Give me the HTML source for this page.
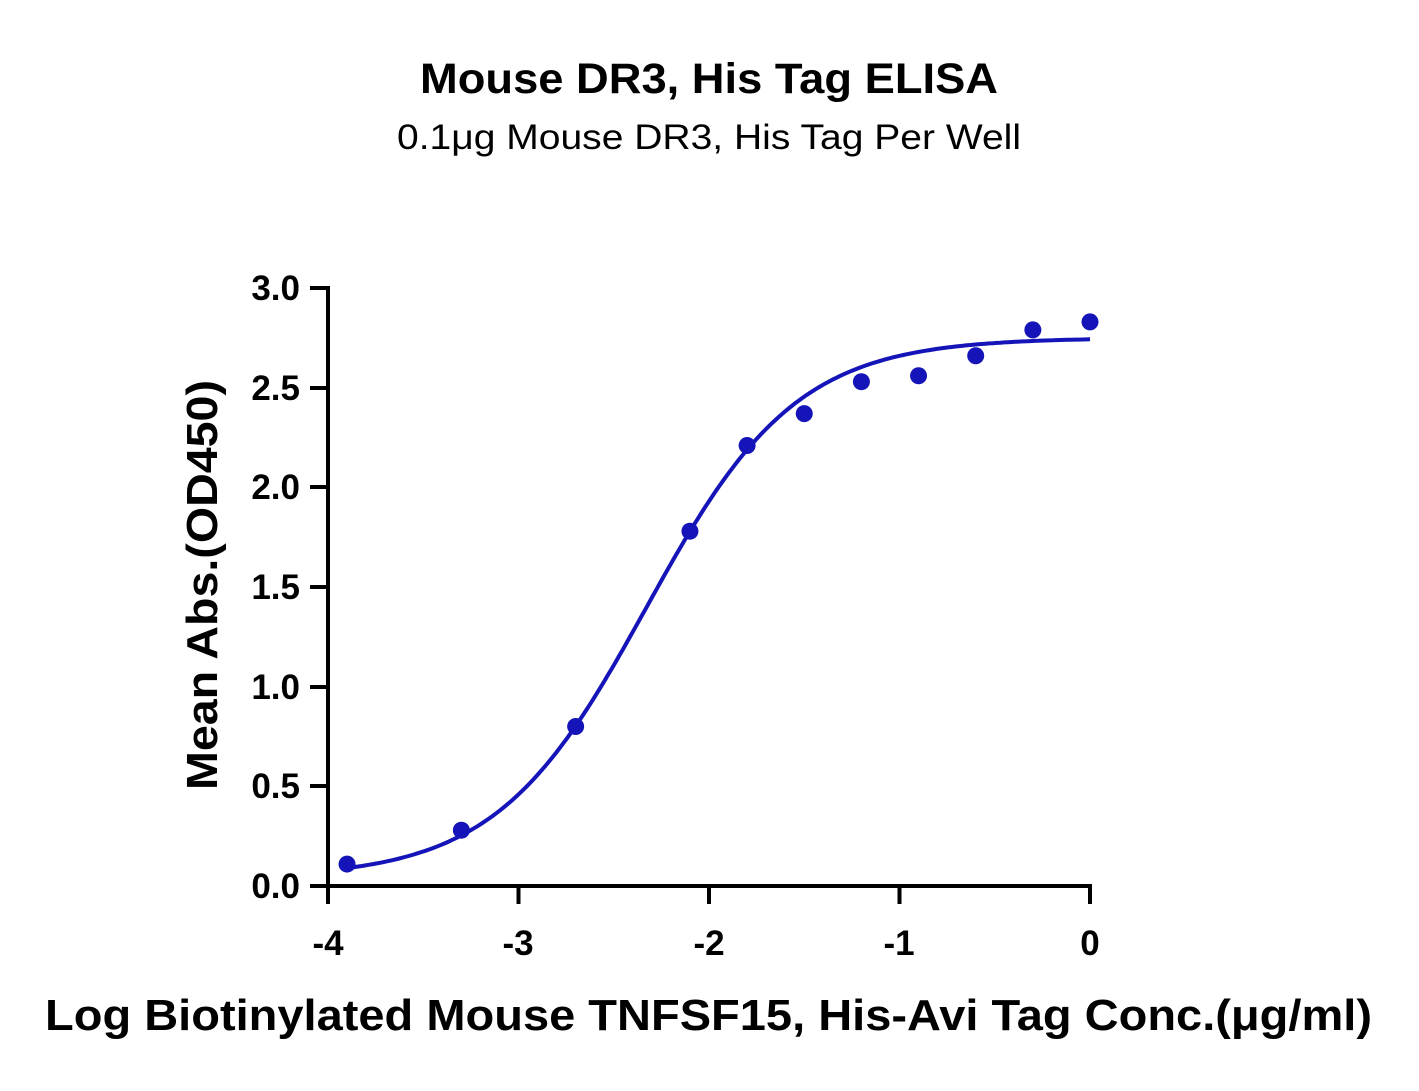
<!DOCTYPE html>
<html><head><meta charset="utf-8"><style>
html,body{margin:0;padding:0;background:#fff;}
svg text{font-family:"Liberation Sans",sans-serif;}
</style></head><body>
<svg id="s" width="1419" height="1086" viewBox="0 0 1419 1086" xmlns="http://www.w3.org/2000/svg">
<text x="420" y="93" font-size="43" font-weight="bold" textLength="578" lengthAdjust="spacingAndGlyphs">Mouse DR3, His Tag ELISA</text>
<text x="397" y="149" font-size="35" textLength="624" lengthAdjust="spacingAndGlyphs">0.1μg Mouse DR3, His Tag Per Well</text>
<g stroke="#000" stroke-width="4" fill="none">
<line x1="328" y1="286" x2="328" y2="888"/>
<line x1="326" y1="886" x2="1092" y2="886"/>
<line x1="310" y1="288" x2="328" y2="288"/>
<line x1="310" y1="388" x2="328" y2="388"/>
<line x1="310" y1="487" x2="328" y2="487"/>
<line x1="310" y1="587" x2="328" y2="587"/>
<line x1="310" y1="687" x2="328" y2="687"/>
<line x1="310" y1="786" x2="328" y2="786"/>
<line x1="310" y1="886" x2="328" y2="886"/>
<line x1="328" y1="886" x2="328" y2="904"/>
<line x1="518.5" y1="886" x2="518.5" y2="904"/>
<line x1="709" y1="886" x2="709" y2="904"/>
<line x1="899.5" y1="886" x2="899.5" y2="904"/>
<line x1="1090" y1="886" x2="1090" y2="904"/>
</g>
<g font-size="35" font-weight="bold" text-anchor="end">
<text x="300" y="300">3.0</text><text x="300" y="400">2.5</text><text x="300" y="499">2.0</text>
<text x="300" y="599">1.5</text><text x="300" y="699">1.0</text><text x="300" y="798">0.5</text>
<text x="300" y="898">0.0</text>
</g>
<g font-size="35" font-weight="bold" text-anchor="middle">
<text x="328" y="955">-4</text><text x="518" y="955">-3</text><text x="709" y="955">-2</text>
<text x="899" y="955">-1</text><text x="1090" y="955">0</text>
</g>
<text transform="translate(217,790) rotate(-90)" font-size="44" font-weight="bold" textLength="410" lengthAdjust="spacingAndGlyphs">Mean Abs.(OD450)</text>
<text x="45" y="1030" font-size="44" font-weight="bold" textLength="1327" lengthAdjust="spacingAndGlyphs">Log Biotinylated Mouse TNFSF15, His-Avi Tag Conc.(μg/ml)</text>
<path id="c" fill="none" stroke="#1414b8" stroke-width="4"/>
<g fill="#1414b8" id="pts"></g>
</svg>
<script>
var X=function(v){return 328+(v+4)*190.5},Y=function(v){return 886-v*199.33};
var d="";for(var i=0;i<=200;i++){var x=-3.92+i*3.92/200;var y=0.04+2.71/(1+Math.pow(10,(-2.33-x)*1.1));d+=(i?"L":"M")+X(x).toFixed(1)+" "+Y(y).toFixed(1);}
document.getElementById("c").setAttribute("d",d);
var p=[[-3.9,0.11],[-3.3,0.28],[-2.7,0.8],[-2.1,1.78],[-1.8,2.21],[-1.5,2.37],[-1.2,2.53],[-0.9,2.56],[-0.6,2.66],[-0.3,2.79],[0,2.83]];
var g=document.getElementById("pts"),h="";p.forEach(function(q){h+='<circle cx="'+X(q[0])+'" cy="'+Y(q[1])+'" r="8.5"/>';});g.innerHTML=h;
</script>
</body></html>
